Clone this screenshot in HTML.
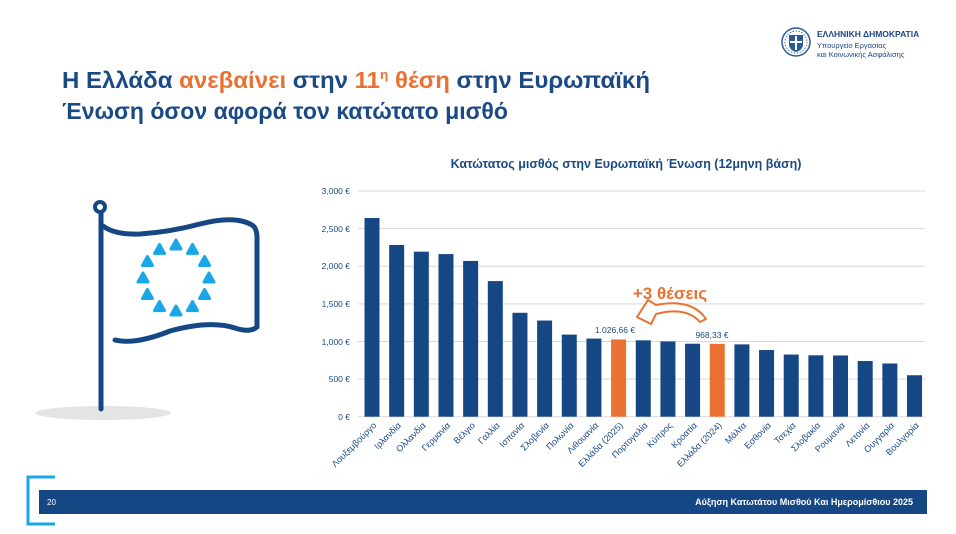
<!DOCTYPE html>
<html><head><meta charset="utf-8"><style>
html,body{margin:0;padding:0;background:#fff;}
svg{display:block;font-family:"Liberation Sans",Arial,sans-serif;}
</style></head><body>
<svg width="956" height="534" viewBox="0 0 956 534" xmlns="http://www.w3.org/2000/svg">
<!-- logo -->
<g transform="translate(781,27)">
<circle cx="15" cy="15" r="14" fill="none" stroke="#2a5a94" stroke-width="1.5"/>
<circle cx="15" cy="15" r="11" fill="none" stroke="#2a5a94" stroke-width="0.8" stroke-dasharray="1.5 1.5"/>
<path d="M8 8h14v9q0 6-7 8q-7-2-7-8z" fill="#2a5a94"/>
<path d="M15 9v14M9 15h12" stroke="#fff" stroke-width="2"/>
</g>
<text x="817" y="37" font-size="8.5" font-weight="bold" fill="#1c4587">ΕΛΛΗΝΙΚΗ ΔΗΜΟΚΡΑΤΙΑ</text>
<text x="817" y="48" font-size="7.5" fill="#1c4587">Υπουργείο Εργασίας</text>
<text x="817" y="57" font-size="7.5" fill="#1c4587">και Κοινωνικής Ασφάλισης</text>
<!-- title -->
<text x="62" y="88" font-size="23" font-weight="bold" fill="#1a4a85" textLength="588" lengthAdjust="spacingAndGlyphs">Η Ελλάδα <tspan fill="#E97132">ανεβαίνει</tspan> στην <tspan fill="#E97132">11<tspan font-size="13" dy="-9">η</tspan><tspan dy="9"> θέση</tspan></tspan> στην Ευρωπαϊκή</text>
<text x="62" y="119" font-size="23" font-weight="bold" fill="#1a4a85" textLength="446" lengthAdjust="spacingAndGlyphs">Ένωση όσον αφορά τον κατώτατο μισθό</text>
<!-- chart title -->
<text x="626" y="168" font-size="12.5" font-weight="bold" fill="#1a4a85" text-anchor="middle">Κατώτατος μισθός στην Ευρωπαϊκή Ένωση (12μηνη βάση)</text>
<!-- grid -->
<g stroke="#d9d9d9" stroke-width="1">
<line x1="358" y1="191" x2="925" y2="191"/>
<line x1="358" y1="228.6" x2="925" y2="228.6"/>
<line x1="358" y1="266.3" x2="925" y2="266.3"/>
<line x1="358" y1="303.9" x2="925" y2="303.9"/>
<line x1="358" y1="341.5" x2="925" y2="341.5"/>
<line x1="358" y1="379.1" x2="925" y2="379.1"/>
<line x1="358" y1="416.7" x2="925" y2="416.7"/>
</g>
<g font-size="8.5" fill="#1a4a85" text-anchor="end">
<text x="350" y="194">3,000 €</text>
<text x="350" y="232">2,500 €</text>
<text x="350" y="269">2,000 €</text>
<text x="350" y="307">1,500 €</text>
<text x="350" y="345">1,000 €</text>
<text x="350" y="382">500 €</text>
<text x="350" y="420">0 €</text>
</g>
<g id="bars"></g>
<g id="labels" font-size="9" fill="#1a4a85" text-anchor="end"></g>
<text x="615" y="333" font-size="8.5" fill="#1a4a85" text-anchor="middle">1.026,66 €</text>
<text x="712" y="338" font-size="8.5" fill="#1a4a85" text-anchor="middle">968,33 €</text>
<text x="670" y="299" font-size="17" font-weight="bold" fill="#E97132" text-anchor="middle">+3 θέσεις</text>
<path d="M706 319 Q692 298 656 305 L648 300 L637 317 L651 324 L656 314 Q686 306 700 322 Z" fill="#fff" stroke="#E97132" stroke-width="2" stroke-linejoin="round"/>
<!-- flag -->
<g fill="none" stroke="#164785" stroke-width="5" stroke-linecap="round">
<circle cx="100" cy="207" r="5" stroke-width="4"/>
<ellipse cx="103" cy="413" rx="68" ry="7" fill="#e4e4e4" stroke="none"/>
<line x1="101" y1="213" x2="101" y2="409"/>
<path d="M103 226 Q115 235 140 234 Q170 232 200 224 Q235 215 252 225 Q257 228 257 238 L257 327 Q250 333 235 328 Q210 320 170 331 Q135 345 115 340"/>
</g>
<g id="stars" fill="#1aa7e8"></g>
<!-- footer -->
<path d="M55 477 H28 V524 H55" fill="none" stroke="#1aa7e8" stroke-width="3"/>
<rect x="39" y="490" width="888" height="24" fill="#164785"/>
<text x="47" y="505" font-size="8" fill="#fff">20</text>
<text x="913" y="505" font-size="9" font-weight="bold" fill="#fff" text-anchor="end">Αύξηση Κατωτάτου Μισθού Και Ημερομίσθιου 2025</text>
<script>
var d=[["Λουξεμβούργο",2640],["Ιρλανδία",2282],["Ολλανδία",2193],["Γερμανία",2161],["Βέλγιο",2070],["Γαλλία",1802],["Ισπανία",1381],["Σλοβενία",1278],["Πολωνία",1091],["Λιθουανία",1038],["Ελλάδα (2025)",1026.66,1],["Πορτογαλία",1015],["Κύπρος",1000],["Κροατία",970],["Ελλάδα (2024)",968.33,1],["Μάλτα",961],["Εσθονία",886],["Τσεχία",826],["Σλοβακία",816],["Ρουμανία",814],["Λετονία",740],["Ουγγαρία",707],["Βουλγαρία",551]];
var ns="http://www.w3.org/2000/svg",b=document.getElementById("bars"),l=document.getElementById("labels");
d.forEach(function(r,i){var cx=372+i*24.66,h=r[1]*0.07525;
var e=document.createElementNS(ns,"rect");e.setAttribute("x",cx-7.5);e.setAttribute("width",15);e.setAttribute("y",416.7-h);e.setAttribute("height",h);e.setAttribute("fill",r[2]?"#E97132":"#164785");b.appendChild(e);
var t=document.createElementNS(ns,"text");t.setAttribute("transform","translate("+(cx+5)+",426) rotate(-45)");t.textContent=r[0];l.appendChild(t);});
var s=document.getElementById("stars");
for(var k=0;k<12;k++){var a=k*Math.PI/6,x=176+33*Math.sin(a),y=278-33*Math.cos(a);
var p=document.createElementNS(ns,"path");p.setAttribute("d","M"+x+" "+(y-5)+" L"+(x+5)+" "+(y+4)+" L"+(x-5)+" "+(y+4)+"Z");p.setAttribute("stroke","#1aa7e8");p.setAttribute("stroke-width","3");p.setAttribute("stroke-linejoin","round");s.appendChild(p);}
</script>
</svg>
</body></html>
